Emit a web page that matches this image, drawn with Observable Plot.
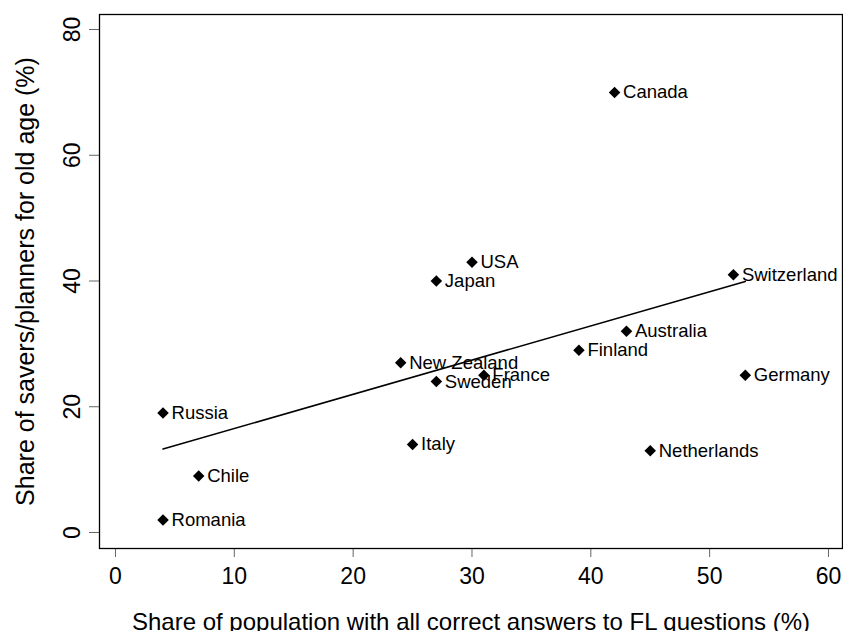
<!DOCTYPE html>
<html>
<head>
<meta charset="utf-8">
<script src="https://cdn.jsdelivr.net/npm/d3@7"></script>
<script src="https://cdn.jsdelivr.net/npm/@observablehq/plot@0.6"></script>
<style>
  html, body { margin: 0; padding: 0; background: #fff; }
  svg { display: block; }
</style>
</head>
<body>
<div id="chart"></div>
<script>
const countries = ["Canada", "USA", "Japan", "Switzerland", "Australia", "Finland", "New Zealand", "France", "Sweden", "Germany", "Italy", "Netherlands", "Russia", "Chile", "Romania"];
const literacy = [42, 30, 27, 52, 43, 39, 24, 31, 27, 53, 25, 45, 4, 7, 4];
const savers = [70, 43, 40, 41, 32, 29, 27, 25, 24, 25, 14, 13, 19, 9, 2];
const xTicks = [0, 10, 20, 30, 40, 50, 60];
const yTicks = [0, 20, 40, 60, 80];
const xTitle = "Share of population with all correct answers to FL questions (%)";
const yTitle = "Share of savers/planners for old age (%)";

const data = countries.map((c, i) => ({country: c, x: literacy[i], y: savers[i]}));

const chart = Plot.plot({
  width: 843,
  height: 631,
  marginLeft: 99,
  marginRight: 1,
  marginTop: 14,
  marginBottom: 83,
  style: {fontFamily: "'Liberation Sans', Arial, Helvetica, sans-serif", background: "#fff", color: "#000"},
  x: {domain: [-1.346, 61.18]},
  y: {domain: [-2.545, 82.39]},
  marks: [
    Plot.axisX({ticks: xTicks, tickSize: 9, tickPadding: 10, fontSize: 23, label: null, stroke: "#666", fill: "#000"}),
    Plot.axisY({ticks: yTicks, tickSize: 10, tickFormat: () => "", label: null, stroke: "#666"}),
    Plot.text(yTicks, {y: d => d, text: d => String(d), frameAnchor: "left", dx: -27, rotate: -90, fontSize: 23, textAnchor: "middle", lineAnchor: "middle", fill: "#000"}),
    Plot.text([yTitle], {text: d => d, frameAnchor: "left", dx: -74, rotate: -90, fontSize: 25, textAnchor: "middle", lineAnchor: "middle", fill: "#000"}),
    Plot.text([xTitle], {text: d => d, frameAnchor: "bottom", dy: 64, fontSize: 24, textAnchor: "middle", lineAnchor: "top", fill: "#000"}),
    Plot.frame({stroke: "#000", strokeWidth: 1.3}),
    Plot.linearRegressionY(data, {x: "x", y: "y", ci: 0, stroke: "#000", strokeWidth: 1.6}),
    Plot.dot(data, {x: "x", y: "y", symbol: "square", r: 4.6, rotate: 45, fill: "#000", stroke: "none"}),
    Plot.text(data, {x: "x", y: "y", text: "country", dx: 8.5, textAnchor: "start", lineAnchor: "middle", fontSize: 18.5, fill: "#000"})
  ]
});
document.getElementById("chart").appendChild(chart);
</script>
</body>
</html>
